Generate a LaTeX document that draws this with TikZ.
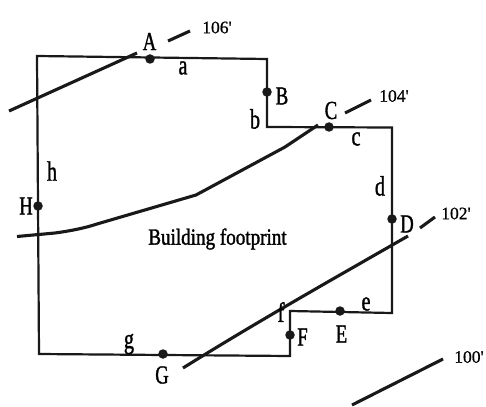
\documentclass[tikz,border=0pt]{standalone}
\usepackage{fontspec}
\newfontfamily\lab[FakeStretch=0.72,FakeBold=1.2]{Liberation Serif}
\newfontfamily\ttl[FakeStretch=0.83,FakeBold=1.4]{Liberation Serif}
\newfontfamily\elev[FakeBold=0.8]{Liberation Serif}
\tikzset{
  wall/.style={line width=2.2pt,line join=miter,black!90},
  contour/.style={line width=3.1pt,black!90},
  pt/.style={circle,fill=black!90,inner sep=0pt,minimum size=9.5pt},
  big/.style={inner sep=0pt,font=\lab\fontsize{26}{26}\selectfont},
  small/.style={inner sep=0pt,font=\lab\fontsize{28}{28}\selectfont},
  elevlab/.style={inner sep=0pt,font=\elev\fontsize{17.5}{18}\selectfont},
  title/.style={inner sep=0pt,font=\ttl\fontsize{23}{24}\selectfont}
}
\begin{document}
\begin{tikzpicture}[x=1pt,y=-1pt]
\useasboundingbox (0,0) rectangle (486,406);
\fill[white] (0,0) rectangle (486,406);
% outline corners
\coordinate (c1) at (37,56);
\coordinate (c2) at (267,59);
\coordinate (c3) at (267,127);
\coordinate (c4) at (392,127.5);
\coordinate (c5) at (392,313);
\coordinate (c6) at (290,311);
\coordinate (c7) at (290,356);
\coordinate (c8) at (39,354);
\draw[wall] (c1) -- (c2) -- (c3) -- (c4) -- (c5) -- (c6) -- (c7) -- (c8) -- cycle;
% contour lines
\coordinate (k6a) at (9,111);
\coordinate (k6b) at (137,53);
\coordinate (k6c) at (168,41);
\coordinate (k6d) at (190,31);
\draw[contour] (k6a) -- (k6b);
\draw[contour] (k6c) -- (k6d);
\coordinate (k4a) at (345,113);
\coordinate (k4b) at (371,100);
\draw[contour] (k4a) -- (k4b);
\draw[contour] (17,236.5) -- (55,233) .. controls (70,231) and (85,228) .. (97,224) -- (196,195) -- (285,147) -- (318,125);
\draw[contour] (183,368) .. controls (260,320) and (340,275) .. (408,236);
\coordinate (k2c) at (420,228);
\coordinate (k2d) at (435,217);
\draw[contour] (k2c) -- (k2d);
\coordinate (k0a) at (352,405);
\coordinate (k0b) at (443,359);
\draw[contour] (k0a) -- (k0b);
% points
\node[pt] (A) at (150,59) {};
\node[pt] (B) at (267,92) {};
\node[pt] (C) at (329,127) {};
\node[pt] (D) at (392,219) {};
\node[pt] (E) at (340,311) {};
\node[pt] (F) at (290,335) {};
\node[pt] (G) at (163,354) {};
\node[pt] (H) at (38,206) {};
% point labels
\node[big] (lA) at (149.5,41.5) {A};
\node[big] (lB) at (282,96) {B};
\node[big] (lC) at (331,110.5) {C};
\node[big] (lD) at (407,224) {D};
\node[big] (lE) at (341.5,334) {E};
\node[big] (lF) at (302.5,337) {F};
\node[big] (lG) at (162,375) {G};
\node[big] (lH) at (26,206) {H};
% side labels
\node[small] (la) at (183,68) {a};
\node[small] (lb) at (255,119) {b};
\node[small] (lc) at (356,139) {c};
\node[small] (ld) at (380,186) {d};
\node[small] (le) at (366,304) {e};
\node[small] (lf) at (281,312) {f};
\node[small] (lg) at (129,344) {g};
\node[small] (lh) at (52,171) {h};
% elevations
\node[elevlab] (e6) at (217,27.5) {106'};
\node[elevlab] (e4) at (394,96) {104'};
\node[elevlab] (e2) at (456,213.5) {102'};
\node[elevlab] (e0) at (469,357) {100'};
\node[title] (t) at (217.5,239) {Building footprint};
\end{tikzpicture}
\end{document}
